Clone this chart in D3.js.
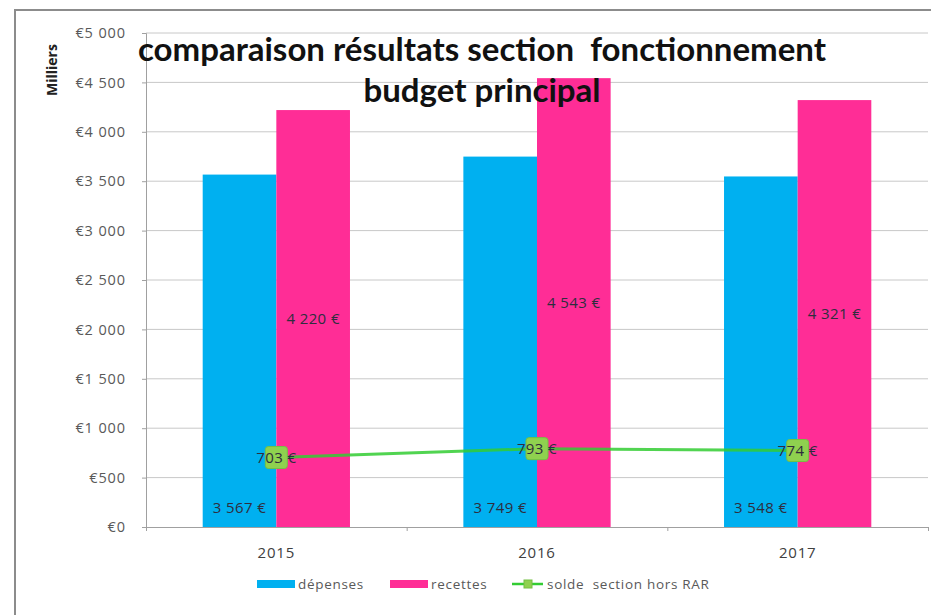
<!DOCTYPE html>
<html>
<head>
<meta charset="utf-8">
<script src="https://cdn.jsdelivr.net/npm/d3@7"></script>
<style>
  body { margin: 0; background: #fff; }
  svg { display: block; }
</style>
</head>
<body>
<svg id="chart" width="931" height="615"></svg>
<script>
// chart data
var years = ["2015", "2016", "2017"];
var depenses = [3567, 3749, 3548];
var recettes = [4220, 4543, 4321];
var solde = [703, 793, 774];
var yTicks = [0, 500, 1000, 1500, 2000, 2500, 3000, 3500, 4000, 4500, 5000];
var titleLines = ["comparaison résultats section  fonctionnement", "budget principal"];
var legendLabels = ["dépenses", "recettes", "solde  section hors RAR"];

var BLUE = "#00b0f0",
	PINK = "#ff2d96",
	GREEN = "#33cc33",
	MARKER_FILL = "#8fd14f",
	GRID = "#c8c8c8",
	AXIS_TEXT = "#595959";

var svg = d3.select("#chart");
var plot = {left: 146, right: 928, top: 33, bottom: 527};

var locale = d3.formatLocale({decimal: ",", thousands: "\u00a0", grouping: [3], currency: ["€", ""]});
var fmtAxis = function(v) { return "€" + locale.format(",d")(v); };
var fmtLabel = function(v) { return locale.format(",d")(v) + "\u00a0€"; };

var x0 = d3.scaleBand().domain(years).range([plot.left, plot.right]).paddingInner(0.435).paddingOuter(0.2175);
var x1 = d3.scaleBand().domain(["dep", "rec"]).range([0, x0.bandwidth()]);
var y = d3.scaleLinear().domain([0, 5000]).range([plot.bottom, plot.top]);

// outer frame of the chart
svg.append("path")
	.attr("d", "M15 615 L15 10 L931 10")
	.attr("fill", "none")
	.attr("stroke", "#8c8c8c")
	.attr("stroke-width", 2);

// gridlines
svg.append("g").selectAll("line")
	.data(yTicks.slice(1))
	.enter().append("line")
	.attr("x1", plot.left).attr("x2", plot.right)
	.attr("y1", function(d) { return y(d); })
	.attr("y2", function(d) { return y(d); })
	.attr("stroke", GRID).attr("stroke-width", 1);

// y axis
var yAxis = d3.axisLeft(y).tickValues(yTicks).tickFormat(fmtAxis).tickSize(4).tickPadding(16);
var gy = svg.append("g").attr("transform", "translate(" + plot.left + ",0)").call(yAxis);
gy.select(".domain").attr("stroke", "#a0a0a0");
gy.selectAll(".tick line").attr("stroke", "#a0a0a0");
gy.selectAll(".tick text")
	.attr("fill", AXIS_TEXT)
	.style("font-family", "'Open Sans', sans-serif")
	.style("font-size", "14.5px")
	.style("letter-spacing", "0.9px");

svg.append("text")
	.attr("transform", "translate(57,70) rotate(-90)")
	.attr("text-anchor", "middle")
	.attr("fill", "#222")
	.style("font-family", "'Open Sans', sans-serif")
	.style("font-weight", "bold")
	.style("font-size", "14px")
	.text("Milliers");

// bars
var groups = svg.append("g").selectAll("g")
	.data(years)
	.enter().append("g")
	.attr("transform", function(d) { return "translate(" + x0(d) + ",0)"; });

groups.append("rect")
	.attr("x", x1("dep")).attr("width", x1.bandwidth())
	.attr("y", function(d, i) { return y(depenses[i]); })
	.attr("height", function(d, i) { return y(0) - y(depenses[i]); })
	.attr("fill", BLUE);

groups.append("rect")
	.attr("x", x1("rec")).attr("width", x1.bandwidth())
	.attr("y", function(d, i) { return y(recettes[i]); })
	.attr("height", function(d, i) { return y(0) - y(recettes[i]); })
	.attr("fill", PINK);

// x axis
var xAxis = d3.axisBottom(d3.scaleLinear().domain([0, 3]).range([plot.left, plot.right]))
	.ticks(3).tickSize(4).tickFormat("");
var gx = svg.append("g").attr("transform", "translate(0," + plot.bottom + ")").call(xAxis);
gx.select(".domain").attr("stroke", "#a0a0a0");
gx.selectAll(".tick line").attr("stroke", "#a0a0a0");

svg.append("g").selectAll("text")
	.data(years)
	.enter().append("text")
	.attr("x", function(d) { return x0(d) + x0.bandwidth() / 2; })
	.attr("y", 558)
	.attr("text-anchor", "middle")
	.attr("fill", "#404040")
	.style("font-family", "'Open Sans', sans-serif")
	.style("font-size", "15px")
	.style("letter-spacing", "0.8px")
	.text(function(d) { return d; });

// bar labels
var labelStyle = function(sel) {
	sel.attr("text-anchor", "middle")
		.attr("fill", "#2e2e3e")
		.style("font-family", "'Open Sans', sans-serif")
		.style("font-size", "15px")
		.style("letter-spacing", "0.4px");
};

groups.append("text")
	.attr("x", x1("dep") + x1.bandwidth() / 2)
	.attr("y", y(0) - 14)
	.call(labelStyle)
	.text(function(d, i) { return fmtLabel(depenses[i]); });

groups.append("text")
	.attr("x", x1("rec") + x1.bandwidth() / 2)
	.attr("y", function(d, i) { return (y(0) + y(recettes[i])) / 2 + 5.5; })
	.call(labelStyle)
	.text(function(d, i) { return fmtLabel(recettes[i]); });

// solde line
var cx = function(i) { return x0(years[i]) + x0.bandwidth() / 2; };
var line = d3.line()
	.x(function(d, i) { return cx(i); })
	.y(function(d) { return y(d); });

svg.append("path")
	.datum(solde)
	.attr("d", line)
	.attr("fill", "none")
	.attr("stroke", GREEN)
	.attr("stroke-opacity", 0.85)
	.attr("stroke-width", 3);

svg.append("g").selectAll("rect")
	.data(solde)
	.enter().append("rect")
	.attr("x", function(d, i) { return cx(i) - 11; })
	.attr("y", function(d) { return y(d) - 11; })
	.attr("width", 22).attr("height", 22)
	.attr("rx", 3)
	.attr("fill", MARKER_FILL)
	.attr("stroke", "#74c043")
	.attr("stroke-width", 1);

svg.append("g").selectAll("text")
	.data(solde)
	.enter().append("text")
	.attr("x", function(d, i) { return cx(i); })
	.attr("y", function(d) { return y(d) + 5.5; })
	.call(labelStyle)
	.text(function(d) { return fmtLabel(d); });

// title
svg.append("g").selectAll("text")
	.data(titleLines)
	.enter().append("text")
	.attr("x", 482)
	.attr("y", function(d, i) { return 61 + i * 41; })
	.attr("text-anchor", "middle")
	.attr("fill", "#111")
	.style("font-family", "Lato, sans-serif")
	.style("font-weight", "bold")
	.style("font-size", "33px")
	.style("white-space", "pre")
	.text(function(d) { return d; });

// legend
var legend = svg.append("g").attr("transform", "translate(0,584)");
var legendItems = [
	{x: 257, label: legendLabels[0], color: BLUE, type: "rect"},
	{x: 390, label: legendLabels[1], color: PINK, type: "rect"},
	{x: 512, label: legendLabels[2], color: GREEN, type: "line"}
];
legendItems.forEach(function(item) {
	if(item.type === "rect") {
		legend.append("rect")
			.attr("x", item.x).attr("y", -4)
			.attr("width", 38).attr("height", 8)
			.attr("fill", item.color);
	} else {
		legend.append("line")
			.attr("x1", item.x).attr("x2", item.x + 31)
			.attr("y1", 0).attr("y2", 0)
			.attr("stroke", item.color).attr("stroke-width", 2.5);
		legend.append("rect")
			.attr("x", item.x + 12).attr("y", -4)
			.attr("width", 8).attr("height", 8)
			.attr("fill", MARKER_FILL).attr("stroke", "#74c043");
	}
	legend.append("text")
		.attr("x", item.x + (item.type === "rect" ? 41 : 35))
		.attr("y", 5)
		.attr("fill", AXIS_TEXT)
		.style("font-family", "'Open Sans', sans-serif")
		.style("font-size", "13.5px")
		.style("letter-spacing", "0.7px")
		.style("white-space", "pre")
		.text(item.label);
});
</script>
</body>
</html>
